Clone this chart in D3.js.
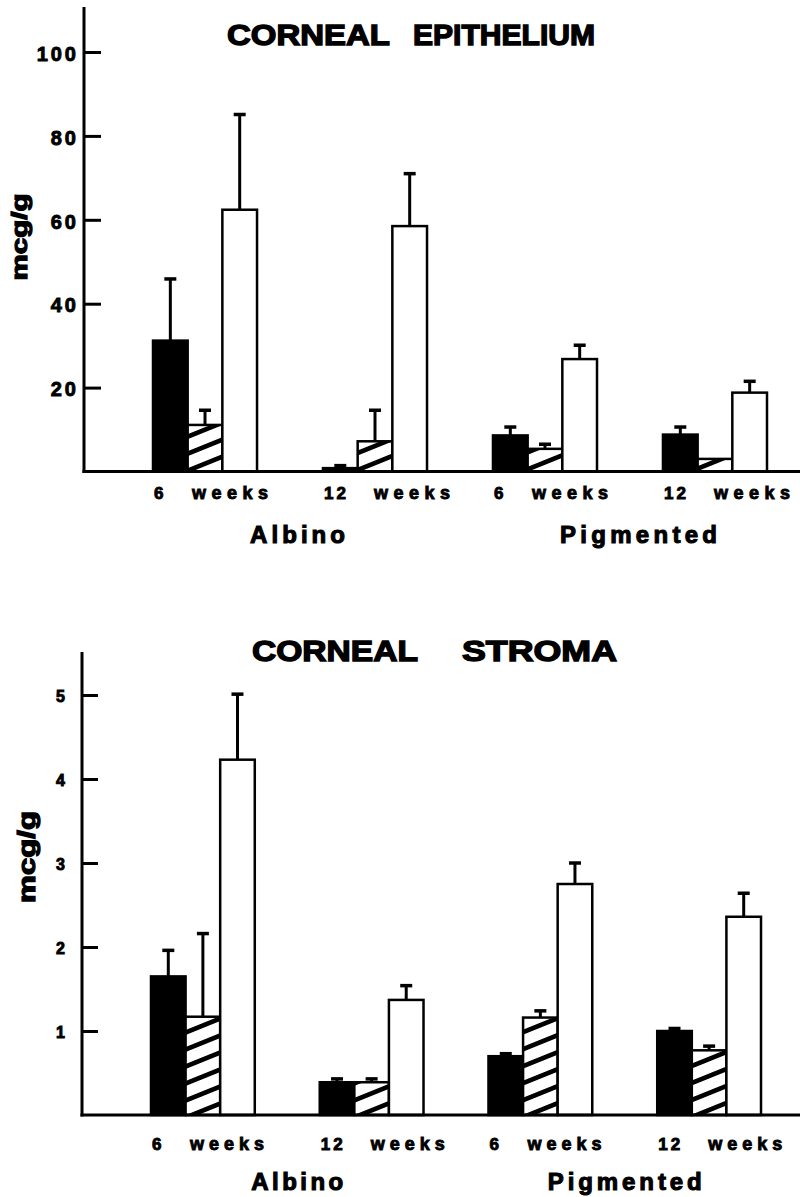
<!DOCTYPE html>
<html><head><meta charset="utf-8">
<script src="https://cdn.jsdelivr.net/npm/d3@7"></script>
<style>
html,body{margin:0;padding:0;background:#fff;}
svg{display:block;}
text{font-family:"Liberation Sans", Arial, Helvetica, sans-serif; font-weight:bold; fill:#000; stroke:#000; stroke-width:0.9px;}
</style></head><body>
<svg id="chart" width="800" height="1197"></svg>
<script>
// ---------- data ----------
const groups = ["Albino 6", "Albino 12", "Pigmented 6", "Pigmented 12"];
const weekLabels = ["6", "12", "6", "12"];
const weekWord = "weeks";
const strains = ["Albino", "Pigmented"];
const seriesNames = ["solid", "hatched", "open"];
const yAxisLabel = "mcg/g";

const epiTitle = ["CORNEAL", "EPITHELIUM"];
const epiTicks = [20, 40, 60, 80, 100];
const epiSolid = [31.2, 0.8, 8.6, 8.8];
const epiSolidErr = [14.7, 0.6, 2.0, 1.8];
const epiHatched = [11.1, 7.2, 5.4, 3.0];
const epiHatchedErr = [3.5, 7.4, 1.1, 0];
const epiOpen = [62.4, 58.5, 26.8, 18.8];
const epiOpenErr = [22.7, 12.5, 3.3, 2.7];

const stroTitle = ["CORNEAL", "STROMA"];
const stroTicks = [1, 2, 3, 4, 5];
const stroSolid = [1.65, 0.39, 0.70, 1.00];
const stroSolidErr = [0.31, 0.04, 0.03, 0.03];
const stroHatched = [1.17, 0.39, 1.16, 0.77];
const stroHatchedErr = [0.99, 0.04, 0.08, 0.05];
const stroOpen = [4.23, 1.37, 2.75, 2.36];
const stroOpenErr = [0.78, 0.17, 0.25, 0.28];

// ---------- layout ----------
const svg = d3.select("#chart");
const defs = svg.append("defs");
const pat = defs.append("pattern")
  .attr("id", "hatch").attr("patternUnits", "userSpaceOnUse")
  .attr("width", 20).attr("height", 17)
  .attr("patternTransform", "skewY(-22)");
pat.append("rect").attr("width", 20).attr("height", 17).attr("fill", "#fff");
pat.append("rect").attr("y", 0).attr("width", 20).attr("height", 5).attr("fill", "#000");

const charts = [
  {
    title: epiTitle, ticks: epiTicks,
    vals: [epiSolid, epiHatched, epiOpen], errs: [epiSolidErr, epiHatchedErr, epiOpenErr],
    L: {axisX: 84, axisTop: 7, base: 471.5, refVal: 100, refY: 52, xStart: 153, xEnd: 767, padInner: 0.388,
        titleY: 45, titleX: [227, 413], titleLen: [163, 182],
        weekY: 499, weekLen: 76, strainY: 543, strainLen: [95, 157], strainDx: [7.5, 8.5],
        ylabX: 19, ylabY: 237, ylabLen: 87, ylabSize: 22,
        tickFont: 20, tickLS: 3, tickPad: 5, tickLen: 17, tickDy: 3}
  },
  {
    title: stroTitle, ticks: stroTicks,
    vals: [stroSolid, stroHatched, stroOpen], errs: [stroSolidErr, stroHatchedErr, stroOpenErr],
    L: {axisX: 82, axisTop: 652, base: 1115, refVal: 5, refY: 695, xStart: 151, xEnd: 761, padInner: 0.385,
        titleY: 661, titleX: [252, 462], titleLen: [166, 155],
        weekY: 1150, weekLen: 74, strainY: 1190, strainLen: [92, 154], strainDx: [10, 0],
        ylabX: 27, ylabY: 857, ylabLen: 92, ylabSize: 23,
        tickFont: 16, tickLS: 0, tickPad: 17, tickLen: 16, tickDy: 2}
  }
];

const fills = ["#000", "url(#hatch)", "#fff"];

charts.forEach(c => {
  const L = c.L;
  const g = svg.append("g");
  const y = d3.scaleLinear().domain([0, L.refVal]).range([L.base, L.refY]);
  const x0 = d3.scaleBand().domain(groups).range([L.xStart, L.xEnd]).paddingInner(L.padInner).paddingOuter(0);
  const x1 = d3.scaleBand().domain(seriesNames).range([0, x0.bandwidth()]).padding(0);

  // bars
  seriesNames.forEach((s, si) => {
    const rows = groups.map((grp, gi) => ({grp, v: c.vals[si][gi], e: c.errs[si][gi]}));
    g.selectAll(null).data(rows).enter().append("rect")
      .attr("x", d => x0(d.grp) + x1(s))
      .attr("y", d => y(d.v))
      .attr("width", x1.bandwidth())
      .attr("height", d => y(0) - y(d.v))
      .attr("fill", fills[si])
      .attr("stroke", "#000").attr("stroke-width", 2.5);
    // error bars
    const eb = rows.filter(d => d.e > 0);
    g.selectAll(null).data(eb).enter().append("line")
      .attr("x1", d => x0(d.grp) + x1(s) + x1.bandwidth() / 2)
      .attr("x2", d => x0(d.grp) + x1(s) + x1.bandwidth() / 2)
      .attr("y1", d => y(d.v)).attr("y2", d => y(d.v + d.e))
      .attr("stroke", "#000").attr("stroke-width", 3);
    g.selectAll(null).data(eb).enter().append("line")
      .attr("x1", d => x0(d.grp) + x1(s) + x1.bandwidth() / 2 - 6)
      .attr("x2", d => x0(d.grp) + x1(s) + x1.bandwidth() / 2 + 6)
      .attr("y1", d => y(d.v + d.e)).attr("y2", d => y(d.v + d.e))
      .attr("stroke", "#000").attr("stroke-width", 3.5);
  });

  // y axis
  const ax = g.append("g").attr("transform", `translate(${L.axisX},0)`)
    .call(d3.axisLeft(y).tickValues(c.ticks).tickFormat(d3.format("d"))
      .tickSizeInner(-L.tickLen).tickSizeOuter(0).tickPadding(L.tickPad));
  ax.select(".domain").remove();
  ax.selectAll(".tick line").attr("stroke", "#000").attr("stroke-width", 3);
  ax.selectAll(".tick text").attr("font-size", L.tickFont)
    .style("letter-spacing", L.tickLS + "px")
    .attr("font-family", "Liberation Sans, Arial, sans-serif").attr("font-weight", "bold")
    .attr("fill", "#000").attr("stroke", "#000").attr("stroke-width", 0.9)
    .attr("dy", null).attr("y", L.tickDy).attr("dominant-baseline", "middle");
  g.append("line").attr("x1", L.axisX).attr("x2", L.axisX)
    .attr("y1", y(0) + 1.5).attr("y2", L.axisTop)
    .attr("stroke", "#000").attr("stroke-width", 3);
  // baseline
  g.append("line").attr("x1", L.axisX - 1.5).attr("x2", 800)
    .attr("y1", y(0)).attr("y2", y(0))
    .attr("stroke", "#000").attr("stroke-width", 3);

  // title
  c.title.forEach((t, i) => {
    g.append("text").attr("x", L.titleX[i]).attr("y", L.titleY)
      .attr("font-size", 30).attr("textLength", L.titleLen[i]).attr("lengthAdjust", "spacingAndGlyphs")
      .style("stroke-width", "1.4px")
      .text(t);
  });

  // y label
  g.append("text")
    .attr("transform", `translate(${L.ylabX},${L.ylabY}) rotate(-90)`)
    .attr("text-anchor", "middle").attr("dominant-baseline", "central")
    .attr("font-size", L.ylabSize)
    .attr("textLength", L.ylabLen).attr("lengthAdjust", "spacingAndGlyphs")
    .style("stroke-width", "1.2px")
    .text(yAxisLabel);

  // week labels
  groups.forEach((grp, gi) => {
    const wk = weekLabels[gi];
    const sx = x0(grp) + 1;
    g.append("text").attr("x", sx).attr("y", L.weekY).attr("font-size", 17)
      .style("letter-spacing", "3px").text(wk);
    g.append("text").attr("x", sx + (wk.length > 1 ? 50 : 38)).attr("y", L.weekY).attr("font-size", 18)
      .attr("textLength", L.weekLen).attr("lengthAdjust", "spacing").text(weekWord);
  });

  // strain labels
  strains.forEach((st, si) => {
    const gA = groups[si * 2], gB = groups[si * 2 + 1];
    const cx = (x0(gA) + x0(gB) + x0.bandwidth()) / 2 + L.strainDx[si];
    g.append("text").attr("x", cx).attr("y", L.strainY).attr("text-anchor", "middle")
      .attr("font-size", 24).attr("textLength", L.strainLen[si]).attr("lengthAdjust", "spacing")
      .style("stroke-width", "1.1px")
      .text(st);
  });
});
</script>
</body></html>
